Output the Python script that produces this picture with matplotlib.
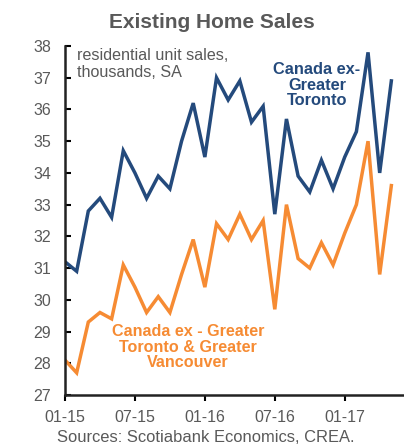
import matplotlib
matplotlib.use("Agg")
import matplotlib.pyplot as plt

plt.rcParams['font.family'] = ['Liberation Sans', 'DejaVu Sans']

# monthly, Jan 2015 - May 2017
months = list(range(29))
ex_toronto = [31.2, 30.9, 32.8, 33.2, 32.6, 34.7, 34.0, 33.2, 33.9, 33.5,
              35.0, 36.2, 34.5, 37.0, 36.3, 36.9, 35.6, 36.1, 32.7, 35.7,
              33.9, 33.4, 34.4, 33.5, 34.5, 35.3, 37.8, 34.0, 36.9]
ex_tor_van = [28.1, 27.7, 29.3, 29.6, 29.4, 31.1, 30.4, 29.6, 30.1, 29.6,
              30.8, 31.9, 30.4, 32.4, 31.9, 32.7, 31.9, 32.5, 29.7, 33.0,
              31.3, 31.0, 31.8, 31.1, 32.1, 33.0, 35.0, 30.8, 33.6]
tick_pos = [0, 6, 12, 18, 24]
tick_labels = ['01-15', '07-15', '01-16', '07-16', '01-17']

blue = '#244a7c'
orange = '#f68b33'
gray = '#595959'

fig = plt.figure(figsize=(4.04, 4.47), dpi=100)
ax = fig.add_axes([65/404, 52/447, 338/404, 349/447])

ax.plot(months, ex_toronto, color=blue, lw=2.5, solid_joinstyle='miter')
ax.plot(months, ex_tor_van, color=orange, lw=2.5, solid_joinstyle='miter')

ax.set_xlim(0, 29)
ax.set_ylim(27, 38)
ax.set_yticks(range(27, 39))
ax.set_xticks(tick_pos)
ax.set_xticklabels(tick_labels)
for s in ['top', 'right']:
    ax.spines[s].set_visible(False)
for s in ['left', 'bottom']:
    ax.spines[s].set_linewidth(1.8)
    ax.spines[s].set_color('#222222')
ax.tick_params(axis='y', direction='in', length=4, width=1.5, labelsize=11.5, labelcolor=gray, pad=10)
ax.tick_params(axis='x', direction='out', length=4, width=1.5, labelsize=11.5, labelcolor=gray, pad=7)

fig.text(212/404, 1 - 22/447, 'Existing Home Sales', ha='center', va='center',
         fontsize=15, fontweight='bold', color=gray)
fig.text(77/404, 1 - 48/447, 'residential unit sales,\nthousands, SA', ha='left', va='top',
         fontsize=11.6, color=gray, linespacing=1.15)
fig.text(317/404, 1 - 85/447, 'Canada ex-\nGreater\nToronto', ha='center', va='center',
         fontsize=11.8, fontweight='bold', color=blue, linespacing=1.08)
fig.text(188/404, 1 - 347/447, 'Canada ex - Greater\nToronto & Greater\nVancouver', ha='center',
         va='center', fontsize=11.6, fontweight='bold', color=orange, linespacing=1.08)
fig.text(206/404, 1 - 437/447, 'Sources: Scotiabank Economics, CREA.', ha='center', va='center',
         fontsize=11.9, color=gray)

fig.savefig('out.png', dpi=100)
